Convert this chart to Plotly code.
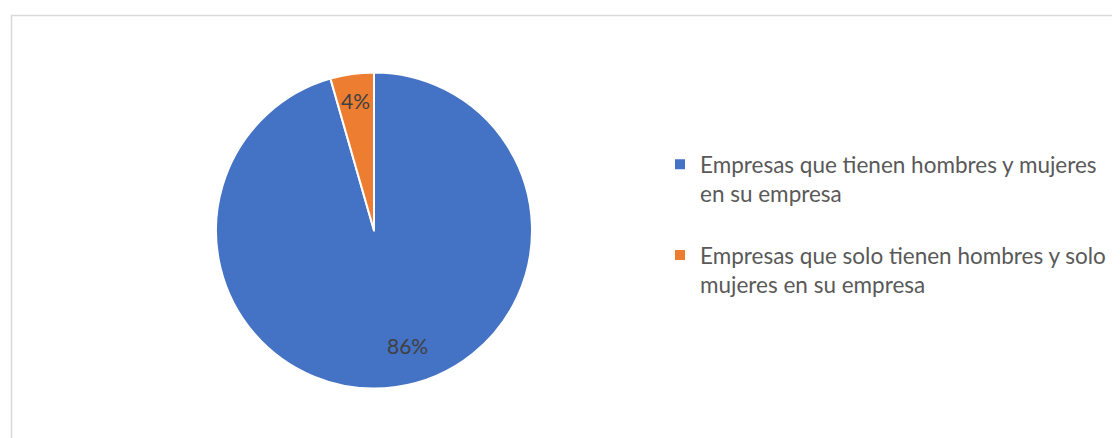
import plotly.graph_objects as go

categories = [
    "Empresas que tienen hombres y mujeres<br>en su empresa<br> ",
    "Empresas que solo tienen hombres y solo<br>mujeres en su empresa",
]
values = [86, 4]
value_labels = ["86%", "4%"]
colors = ["#4472C4", "#ED7D31"]

W, H = 1120, 438
OFF = 8  # page body margin
FONT = "Lato"


def fx(x):
    return (x - OFF) / W


def fy(y):
    return 1 - (y - OFF) / H


CX, CY, R = 374, 230.5, 158

fig = go.Figure()
fig.add_trace(go.Pie(
    labels=categories,
    values=values,
    sort=False,
    direction="clockwise",
    rotation=0,
    textinfo="none",
    marker=dict(colors=colors, line=dict(color="white", width=2)),
    domain=dict(x=[fx(CX - R), fx(CX + R)], y=[fy(CY + R), fy(CY - R)]),
    hoverinfo="label+value",
))

# data labels
label_pos = [(407, 345), (355, 100)]
for txt, (px, py) in zip(value_labels, label_pos):
    fig.add_annotation(x=fx(px), y=fy(py), xref="paper", yref="paper",
                       xanchor="center", yanchor="middle",
                       text=txt, showarrow=False,
                       font=dict(family=FONT, size=21, color="#404040"))

# chart frame
fig.add_shape(type="rect", xref="paper", yref="paper",
              x0=fx(11.5), x1=1.05, y0=-0.05, y1=fy(15.5),
              line=dict(color="#D9D9D9", width=1.5), fillcolor="rgba(0,0,0,0)")

fig.update_layout(
    width=W, height=H,
    margin=dict(l=0, r=0, t=0, b=0),
    paper_bgcolor="white", plot_bgcolor="white",
    showlegend=True,
    legend=dict(x=fx(660), y=fy(143), xanchor="left", yanchor="top",
                valign="top",
                font=dict(family=FONT, size=22.5, color="#595959"),
                bgcolor="rgba(0,0,0,0)"),
)

fig.write_html("out.html")
